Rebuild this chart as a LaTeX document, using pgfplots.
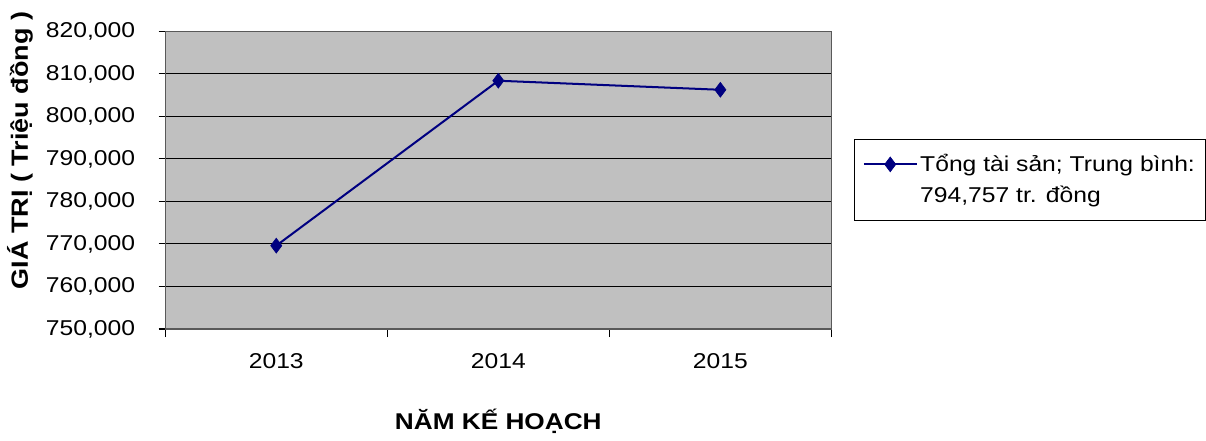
\documentclass[border=0pt]{standalone}
\usepackage{fontspec}
\setmainfont{Liberation Sans}[FakeStretch=1.15]
\usepackage{pgfplots}
\pgfplotsset{compat=1.18}
\definecolor{navyline}{HTML}{000080}
\definecolor{plotbg}{HTML}{C0C0C0}
\begin{document}
\fontsize{16}{24}\selectfont
\begin{tikzpicture}
\begin{axis}[
  scale only axis,
  width=497pt, height=222pt,
  xmin=-0.5, xmax=2.5,
  ymin=750000, ymax=820000,
  ytick={750000,760000,770000,780000,790000,800000,810000,820000},
  scaled y ticks=false,
  yticklabel={\pgfmathprintnumber[fixed,1000 sep={,},assume math mode=true]{\tick}},
  yticklabel style={xshift=-12pt},
  xtick={0,1,2},
  xticklabels={2013,2014,2015},
  xticklabel style={yshift=-7.5pt},
  major x tick style={draw=none},
  minor xtick={-0.5,0.5,1.5,2.5},
  minor tick length=6pt,
  major tick length=5pt,
  tick align=outside,
  xtick pos=bottom, ytick pos=left,
  ymajorgrids,
  major grid style={black, line width=0.8pt},
  tick style={black, line width=0.8pt},
  axis line style={draw=gray!70!black, line width=1pt},
  axis background/.style={fill=plotbg},
  xlabel={\fontsize{17}{20}\selectfont\textbf{NĂM KẾ HOẠCH}},
  xlabel style={at={(axis description cs:0.5,-0.31)}, anchor=center},
  ylabel={\fontsize{17.5}{20}\selectfont\textbf{GIÁ TRỊ ( Triệu đồng )}},
  ylabel style={at={(axis description cs:-0.218,0.6)}, anchor=center},
  legend cell align=left,
  legend style={at={(rel axis cs:1.0347,0.6385)}, anchor=north west,
    draw=black, line width=0.6pt, inner xsep=6pt, inner ysep=9pt, row sep=4.5pt,
    font=\fontsize{16}{24}\selectfont},
  legend image code/.code={
    \draw[#1, mark repeat=2, mark phase=2] plot coordinates {(0cm,0cm) (0.69cm,0cm) (1.38cm,0cm)};
  },
]
\addplot[navyline, line width=1.5pt, mark=diamond*, mark size=5.5pt,
  mark options={fill=navyline, draw=navyline, line width=0.5pt}]
  coordinates {(0,769600) (1,808400) (2,806270)};
\addlegendentry{Tổng tài sản; Trung bình:}
\addlegendimage{empty legend}
\addlegendentry{794,757 tr. đồng}
\end{axis}
\path ([yshift=3.5pt]current bounding box.north) coordinate (topextra);
\end{tikzpicture}
\end{document}
